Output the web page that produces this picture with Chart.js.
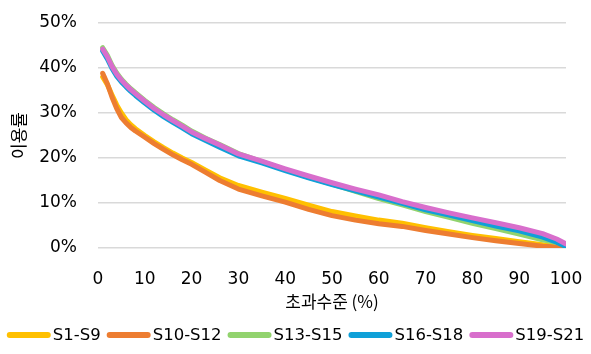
<!DOCTYPE html>
<html>
<head>
<meta charset="utf-8">
<script src="https://cdn.jsdelivr.net/npm/chart.js@4"></script>
<style>
  body { margin: 0; background: #fff; }
  #wrap { width: 591px; height: 354px; }
</style>
</head>
<body>
<div id="wrap"><canvas id="chart"></canvas></div>
<script>
// x positions (초과수준 %) where values were read
const xs = [1,2,3,4,5,6,7,8,10,12,14,16,18,20,23,26,30,35,40,45,50,55,60,65,70,75,80,85,90,95,98,100];

const s1_s9   = [38.0,36.3,34.0,31.8,30.0,28.5,27.4,26.5,25.0,23.6,22.3,21.1,20.0,19.0,17.3,15.6,13.9,12.4,11.0,9.5,8.1,7.1,6.2,5.5,4.5,3.6,2.8,2.1,1.4,0.7,0.3,0.2];
const s10_s12 = [38.8,36.5,33.5,31.0,29.0,27.8,26.8,26.0,24.6,23.2,21.9,20.7,19.6,18.6,16.8,15.0,13.1,11.6,10.2,8.6,7.2,6.2,5.4,4.8,3.9,3.1,2.3,1.6,1.0,0.4,0.2,0.1];
const s13_s15 = [44.5,42.8,40.6,38.9,37.5,36.4,35.4,34.5,32.8,31.2,29.8,28.5,27.3,26.0,24.4,23.0,21.0,19.2,17.4,15.7,14.2,12.6,11.0,9.6,8.1,6.8,5.5,4.3,3.1,1.8,1.2,0.8];
const s16_s18 = [43.8,42.0,39.9,38.2,36.9,35.8,34.8,33.9,32.2,30.6,29.2,27.9,26.7,25.4,23.9,22.4,20.5,18.9,17.2,15.6,14.1,12.7,11.3,9.9,8.5,7.3,6.1,4.9,3.8,2.4,1.3,0.3];
const s19_s21 = [44.2,42.5,40.3,38.6,37.3,36.2,35.2,34.3,32.6,31.0,29.6,28.3,27.1,25.8,24.3,22.9,20.9,19.3,17.6,16.0,14.5,13.1,11.8,10.3,9.0,7.8,6.7,5.6,4.5,3.2,2.0,0.9];

const seriesNames = ['S1-S9','S10-S12','S13-S15','S16-S18','S19-S21'];
const seriesData = [s1_s9, s10_s12, s13_s15, s16_s18, s19_s21];
const colors = ['#FFC000','#ED7D31','#92D36E','#0FA0D8','#D86ECC'];

const font = "'DejaVu Sans', 'Noto Sans CJK KR', sans-serif";
const krFont = "'Noto Sans CJK KR', sans-serif";

function toPoints(vals) {
  return vals.map((v, i) => ({ x: xs[i], y: v }));
}

const datasets = seriesData.map((vals, i) => ({
  label: seriesNames[i],
  data: toPoints(vals),
  borderColor: colors[i],
  backgroundColor: colors[i],
  borderWidth: 5,
  pointRadius: 0,
  tension: 0,
  borderCapStyle: 'round',
  borderJoinStyle: 'round',
  order: seriesNames.length - i  // later series on top, like the original
}));

// legend in one row under the axis title, with long line swatches
const bottomLegend = {
  id: 'bottomLegend',
  afterDraw(chart) {
    const ctx = chart.ctx;
    const boxW = 44, boxGap = 2, itemGap = 6, y = 335;
    ctx.save();
    ctx.font = '16.5px ' + font;
    const items = chart.data.datasets.map(ds => ({
      label: ds.label, color: ds.borderColor, w: ctx.measureText(ds.label).width
    }));
    const total = items.reduce((s, it) => s + boxW + boxGap + it.w, 0) + itemGap * (items.length - 1);
    let x = (chart.width - total) / 2;
    items.forEach(it => {
      ctx.strokeStyle = it.color;
      ctx.lineWidth = 6;
      ctx.lineCap = 'round';
      ctx.beginPath();
      ctx.moveTo(x + 3, y);
      ctx.lineTo(x + boxW - 3, y);
      ctx.stroke();
      ctx.fillStyle = '#000';
      ctx.textAlign = 'left';
      ctx.textBaseline = 'middle';
      ctx.fillText(it.label, x + boxW + boxGap, y + 1);
      x += boxW + boxGap + it.w + itemGap;
    });
    ctx.restore();
  }
};

new Chart(document.getElementById('chart'), {
  type: 'line',
  data: { datasets: datasets },
  plugins: [bottomLegend],
  options: {
    responsive: true,
    maintainAspectRatio: false,
    animation: false,
    layout: { padding: { left: 8, right: 25, top: 23, bottom: 40 } },
    plugins: {
      tooltip: { enabled: false },
      legend: { display: false }
    },
    scales: {
      x: {
        type: 'linear',
        min: 0,
        max: 100,
        grid: { display: false, tickLength: 16 },
        border: { display: false },
        ticks: { stepSize: 10, color: '#000', font: { family: font, size: 17 }, padding: 5, maxRotation: 0 },
        title: { display: true, text: '초과수준 (%)', color: '#000', font: { family: krFont, size: 17 }, padding: { top: 0, bottom: 2 } },
        afterFit: (scale) => { scale.height = 66; }
      },
      y: {
        min: 0,
        max: 50,
        grid: { color: '#d9d9d9', lineWidth: 1.5, drawTicks: false },
        border: { display: false },
        // small lineHeight keeps the top label from pushing the plot area down
        ticks: { stepSize: 10, color: '#000', font: { family: font, size: 17, lineHeight: 0.2 }, padding: 21, callback: v => v + '%' },
        title: { display: true, text: '이용률', color: '#000', font: { family: krFont, size: 17 }, padding: { top: 0, bottom: 0 } },
        afterFit: (scale) => { scale.width = 90; }
      }
    }
  }
});
</script>
</body>
</html>
